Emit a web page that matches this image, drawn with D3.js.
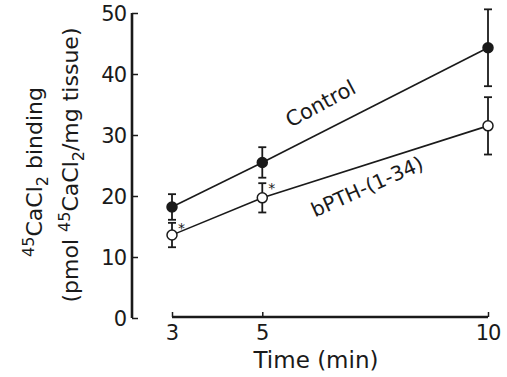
<!DOCTYPE html>
<html>
<head>
<meta charset="utf-8">
<script src="https://cdn.jsdelivr.net/npm/d3@7"></script>
<style>
  body { margin: 0; background: #fff; }
  svg { display: block; font-family: "DejaVu Sans", Arial, sans-serif; }
</style>
</head>
<body>
<div id="chart"></div>
<script>
// Data
const times = [3, 5, 10]
const controlMean = [18.2, 25.5, 44.3]
const controlErr = [2.1, 2.5, 6.3]
const pthMean = [13.6, 19.7, 31.5]
const pthErr = [2.0, 2.4, 4.7]
const pthStar = [true, true, false]
const yTicks = [0, 10, 20, 30, 40, 50]
const xTicks = [3, 5, 10]

const width = 507
const height = 377

const svg = d3.select("#chart").append("svg")
  .attr("width", width)
  .attr("height", height)

const x = d3.scaleLinear().domain([3, 10]).range([172, 488])
const y = d3.scaleLinear().domain([0, 50]).range([318, 13])

const ink = "#1a1a1a"

// Y axis (ticks pointing inward)
const yAxis = svg.append("g")
  .attr("transform", "translate(132,0)")
  .call(d3.axisRight(y).tickValues(yTicks).tickSize(6).tickFormat(""))
yAxis.select(".domain").attr("d", `M0,${y(0)}V${y(50)}`).attr("stroke", ink).attr("stroke-width", 2.6)
yAxis.selectAll(".tick line").attr("stroke", ink).attr("stroke-width", 1.5)

svg.append("g").selectAll("text")
  .data(yTicks)
  .join("text")
  .attr("x", 126)
  .attr("y", (d) => y(d))
  .attr("dy", "0.36em")
  .attr("text-anchor", "end")
  .attr("font-size", 21)
  .attr("letter-spacing", -1)
  .attr("fill", ink)
  .text((d) => d)

// X axis (ticks pointing up)
const xAxis = svg.append("g")
  .attr("transform", `translate(0,${y(0) - 1})`)
  .call(d3.axisTop(x).tickValues(xTicks).tickSize(5).tickFormat(""))
xAxis.select(".domain").attr("d", `M${x(3)},0H${x(10)}`).attr("stroke", ink).attr("stroke-width", 2.4)
xAxis.selectAll(".tick line").attr("stroke", ink).attr("stroke-width", 1.5)

svg.append("g").selectAll("text")
  .data(xTicks)
  .join("text")
  .attr("x", (d) => x(d))
  .attr("y", 340)
  .attr("text-anchor", "middle")
  .attr("font-size", 21)
  .attr("letter-spacing", -1)
  .attr("fill", ink)
  .text((d) => d)

svg.append("text")
  .attr("x", 316)
  .attr("y", 368)
  .attr("text-anchor", "middle")
  .attr("font-size", 23)
  .attr("fill", ink)
  .text("Time (min)")

// Y axis title, two rotated lines
const yt1 = svg.append("text")
  .attr("transform", "translate(42,172) rotate(-90)")
  .attr("text-anchor", "middle")
  .attr("font-size", 22)
  .attr("fill", ink)
yt1.append("tspan").attr("font-size", 16).attr("dy", -8).text("45")
yt1.append("tspan").attr("dy", 8).text("CaCl")
yt1.append("tspan").attr("font-size", 16).attr("dy", 6).text("2")
yt1.append("tspan").attr("dy", -6).text("  binding")

const yt2 = svg.append("text")
  .attr("transform", "translate(78,165) rotate(-90)")
  .attr("text-anchor", "middle")
  .attr("font-size", 22)
  .attr("fill", ink)
yt2.append("tspan").text("(pmol ")
yt2.append("tspan").attr("font-size", 16).attr("dy", -8).text("45")
yt2.append("tspan").attr("dy", 8).text("CaCl")
yt2.append("tspan").attr("font-size", 16).attr("dy", 6).text("2")
yt2.append("tspan").attr("dy", -6).text("/mg tissue)")

// Series
const series = [
  { name: "Control", mean: controlMean, err: controlErr, filled: true },
  { name: "bPTH", mean: pthMean, err: pthErr, filled: false },
]
const r = 5

series.forEach((s) => {
  const pts = times.map((t, i) => ({ t, m: s.mean[i], e: s.err[i] }))
  const g = svg.append("g")

  // connecting segments, trimmed at the markers
  for (let i = 0; i < pts.length - 1; i++) {
    const x1 = x(pts[i].t), y1 = y(pts[i].m)
    const x2 = x(pts[i + 1].t), y2 = y(pts[i + 1].m)
    const len = Math.hypot(x2 - x1, y2 - y1)
    const ux = (x2 - x1) / len, uy = (y2 - y1) / len
    g.append("line")
      .attr("x1", x1 + ux * r).attr("y1", y1 + uy * r)
      .attr("x2", x2 - ux * r).attr("y2", y2 - uy * r)
      .attr("stroke", ink).attr("stroke-width", 1.6)
  }

  // error bars
  const eb = g.selectAll("g.eb").data(pts).join("g")
  eb.append("line")
    .attr("x1", (d) => x(d.t)).attr("x2", (d) => x(d.t))
    .attr("y1", (d) => y(d.m + d.e)).attr("y2", (d) => y(d.m - d.e))
    .attr("stroke", ink).attr("stroke-width", 1.8)
  eb.append("line")
    .attr("x1", (d) => x(d.t) - 4).attr("x2", (d) => x(d.t) + 4)
    .attr("y1", (d) => y(d.m + d.e)).attr("y2", (d) => y(d.m + d.e))
    .attr("stroke", ink).attr("stroke-width", 1.8)
  eb.append("line")
    .attr("x1", (d) => x(d.t) - 4).attr("x2", (d) => x(d.t) + 4)
    .attr("y1", (d) => y(d.m - d.e)).attr("y2", (d) => y(d.m - d.e))
    .attr("stroke", ink).attr("stroke-width", 1.8)

  g.selectAll("circle").data(pts).join("circle")
    .attr("cx", (d) => x(d.t)).attr("cy", (d) => y(d.m))
    .attr("r", r)
    .attr("fill", s.filled ? ink : "#fff")
    .attr("stroke", ink).attr("stroke-width", 1.5)
})

// significance asterisks
svg.append("g").selectAll("text")
  .data(times.map((t, i) => ({ t, m: pthMean[i], e: pthErr[i], s: pthStar[i] })).filter((d) => d.s))
  .join("text")
  .attr("x", (d) => x(d.t) + 6)
  .attr("y", (d) => y(d.m + d.e) + 10)
  .attr("font-size", 14)
  .attr("fill", ink)
  .text("*")

// series labels along the lines
svg.append("text")
  .attr("transform", "translate(324,110) rotate(-28)")
  .attr("text-anchor", "middle")
  .attr("font-size", 21)
  .attr("fill", ink)
  .text("Control")

svg.append("text")
  .attr("transform", "translate(370,193) rotate(-24)")
  .attr("text-anchor", "middle")
  .attr("font-size", 20)
  .attr("fill", ink)
  .text("bPTH-(1-34)")
</script>
</body>
</html>
